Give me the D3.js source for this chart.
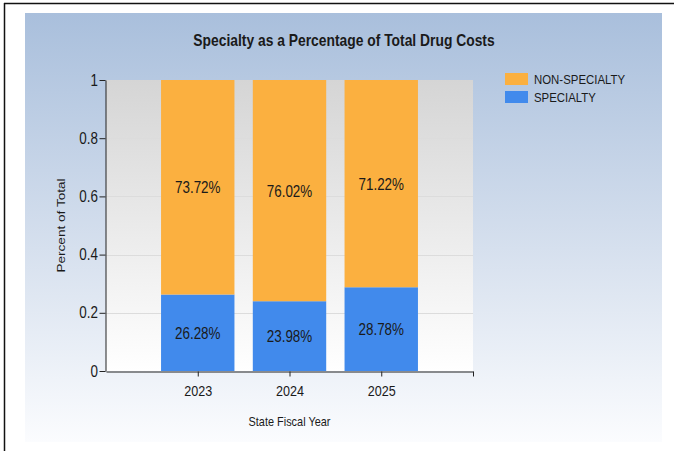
<!DOCTYPE html>
<html>
<head>
<meta charset="utf-8">
<script src="https://cdn.jsdelivr.net/npm/d3@7"></script>
<style>
  html, body { margin: 0; padding: 0; background: #fff; }
  svg { display: block; }
  text { font-family: "Liberation Sans", Arial, sans-serif; fill: #1a1a1a; }
</style>
</head>
<body>
<div id="chart"></div>
<script>
// ── Specialty share of drug costs ──

const years = [2023, 2024, 2025]
const specialty = [0.2628, 0.2398, 0.2878]
const nonSpecialty = [0.7372, 0.7602, 0.7122]
const yTicks = [0, 0.2, 0.4, 0.6, 0.8, 1]
const seriesNames = ['NON-SPECIALTY', 'SPECIALTY']
const seriesColors = ['#fbb040', '#418aec']

const W = 674, H = 451
const SX = 0.84 // the picture is squeezed sideways, text too

const svg = d3.select('#chart').append('svg')
  .attr('width', W).attr('height', H)

const defs = svg.append('defs')
const panelGrad = defs.append('linearGradient')
  .attr('id', 'panelGrad').attr('x1', 0).attr('y1', 0).attr('x2', 0).attr('y2', 1)
panelGrad.append('stop').attr('offset', '0%').attr('stop-color', '#a9bfdc')
panelGrad.append('stop').attr('offset', '55%').attr('stop-color', '#d6e0ee')
panelGrad.append('stop').attr('offset', '100%').attr('stop-color', '#fbfcfe')

const plotGrad = defs.append('linearGradient')
  .attr('id', 'plotGrad').attr('x1', 0).attr('y1', 0).attr('x2', 0).attr('y2', 1)
plotGrad.append('stop').attr('offset', '0%').attr('stop-color', '#d5d5d5')
plotGrad.append('stop').attr('offset', '100%').attr('stop-color', '#ffffff')

// outer frame: only top and left edges show
svg.append('line').attr('x1', 4).attr('y1', 3.5).attr('x2', W).attr('y2', 3.5)
  .attr('stroke', '#111').attr('stroke-width', 1.5)
svg.append('line').attr('x1', 4.5).attr('y1', 3).attr('x2', 4.5).attr('y2', H)
  .attr('stroke', '#111').attr('stroke-width', 1.5)

// chart panel
svg.append('rect').attr('x', 25).attr('y', 13).attr('width', 637).attr('height', 429)
  .attr('fill', 'url(#panelGrad)')

const plot = { left: 106, right: 473, top: 80, bottom: 371 }

const x = d3.scaleLinear().domain([2022, 2026]).range([plot.left, plot.right])
const y = d3.scaleLinear().domain([0, 1]).range([plot.bottom, plot.top])
const barW = (x(2023) - x(2022)) * 0.8

function squeezed(parent, px, py, str, size, opts = {}) {
  const g = parent.append('g')
    .attr('transform', `translate(${px},${py}) ${opts.rotate ? 'rotate(-90) scale(1,' + SX + ')' : 'scale(' + SX + ',1)'}`)
  return g.append('text')
    .attr('text-anchor', opts.anchor || 'middle')
    .attr('font-size', size)
    .attr('font-weight', opts.bold ? 700 : 400)
    .text(str)
}

// plot background + grid
svg.append('rect')
  .attr('x', plot.left).attr('y', plot.top)
  .attr('width', plot.right - plot.left).attr('height', plot.bottom - plot.top)
  .attr('fill', 'url(#plotGrad)')

svg.append('g').selectAll('line')
  .data(yTicks.slice(1, -1))
  .join('line')
  .attr('x1', plot.left).attr('x2', plot.right)
  .attr('y1', d => Math.round(y(d)) + 0.5).attr('y2', d => Math.round(y(d)) + 0.5)
  .attr('stroke', '#dcdcdc').attr('stroke-width', 1)

// stacked bars
const bars = svg.append('g')
bars.selectAll('rect.spec')
  .data(years)
  .join('rect')
  .attr('class', 'spec')
  .attr('x', d => x(d) - barW / 2)
  .attr('width', barW)
  .attr('y', (d, i) => y(specialty[i]))
  .attr('height', (d, i) => y(0) - y(specialty[i]))
  .attr('fill', seriesColors[1])
bars.selectAll('rect.nonspec')
  .data(years)
  .join('rect')
  .attr('class', 'nonspec')
  .attr('x', d => x(d) - barW / 2)
  .attr('width', barW)
  .attr('y', (d, i) => y(specialty[i] + nonSpecialty[i]))
  .attr('height', (d, i) => y(specialty[i]) - y(specialty[i] + nonSpecialty[i]))
  .attr('fill', seriesColors[0])

// value labels
const fmt = v => (v * 100).toFixed(2) + '%'
years.forEach((yr, i) => {
  squeezed(svg, x(yr), y(specialty[i] + nonSpecialty[i] / 2) + 6, fmt(nonSpecialty[i]), 16)
  squeezed(svg, x(yr), y(specialty[i] / 2) + 6, fmt(specialty[i]), 16)
})

// axes
const yAxis = svg.append('g')
  .attr('transform', `translate(${plot.left - 0.5},0)`)
  .call(d3.axisLeft(y).tickValues(yTicks).tickSize(6).tickSizeOuter(0).tickPadding(3)
    .tickFormat(d => String(d)))
yAxis.select('.domain').attr('stroke', '#222')
yAxis.selectAll('.tick line').attr('stroke', '#222')
yAxis.selectAll('.tick text')
  .attr('font-size', 16).attr('fill', '#1a1a1a')
  .attr('font-family', '"Liberation Sans", Arial, sans-serif')
  .attr('transform', `scale(${SX},1)`)

const xAxis = svg.append('g')
  .attr('transform', `translate(0,${plot.bottom + 0.5})`)
  .call(d3.axisBottom(x).tickValues(years.concat([2026])).tickSize(5).tickSizeOuter(0).tickPadding(9)
    .tickFormat(d => years.includes(d) ? String(d) : ''))
xAxis.select('.domain').attr('stroke', '#222')
xAxis.selectAll('.tick line').attr('stroke', '#222')
xAxis.selectAll('.tick text')
  .attr('font-size', 15).attr('fill', '#1a1a1a')
  .attr('font-family', '"Liberation Sans", Arial, sans-serif')
  .attr('transform', `scale(${SX},1)`)

// titles
squeezed(svg, 344, 46, 'Specialty as a Percentage of Total Drug Costs', 16.5, { bold: true })
squeezed(svg, 289.5, 426, 'State Fiscal Year', 13)
squeezed(svg, 65, (plot.top + plot.bottom) / 2, 'Percent of Total', 13.6, { rotate: true })

// legend
const legend = svg.append('g').attr('transform', 'translate(505,73)')
seriesNames.forEach((name, i) => {
  legend.append('rect')
    .attr('x', 0).attr('y', i * 18)
    .attr('width', 23).attr('height', 12)
    .attr('fill', seriesColors[i])
  squeezed(legend, 29, i * 18 + 11, name, 13.6, { anchor: 'start' })
})
</script>
</body>
</html>
